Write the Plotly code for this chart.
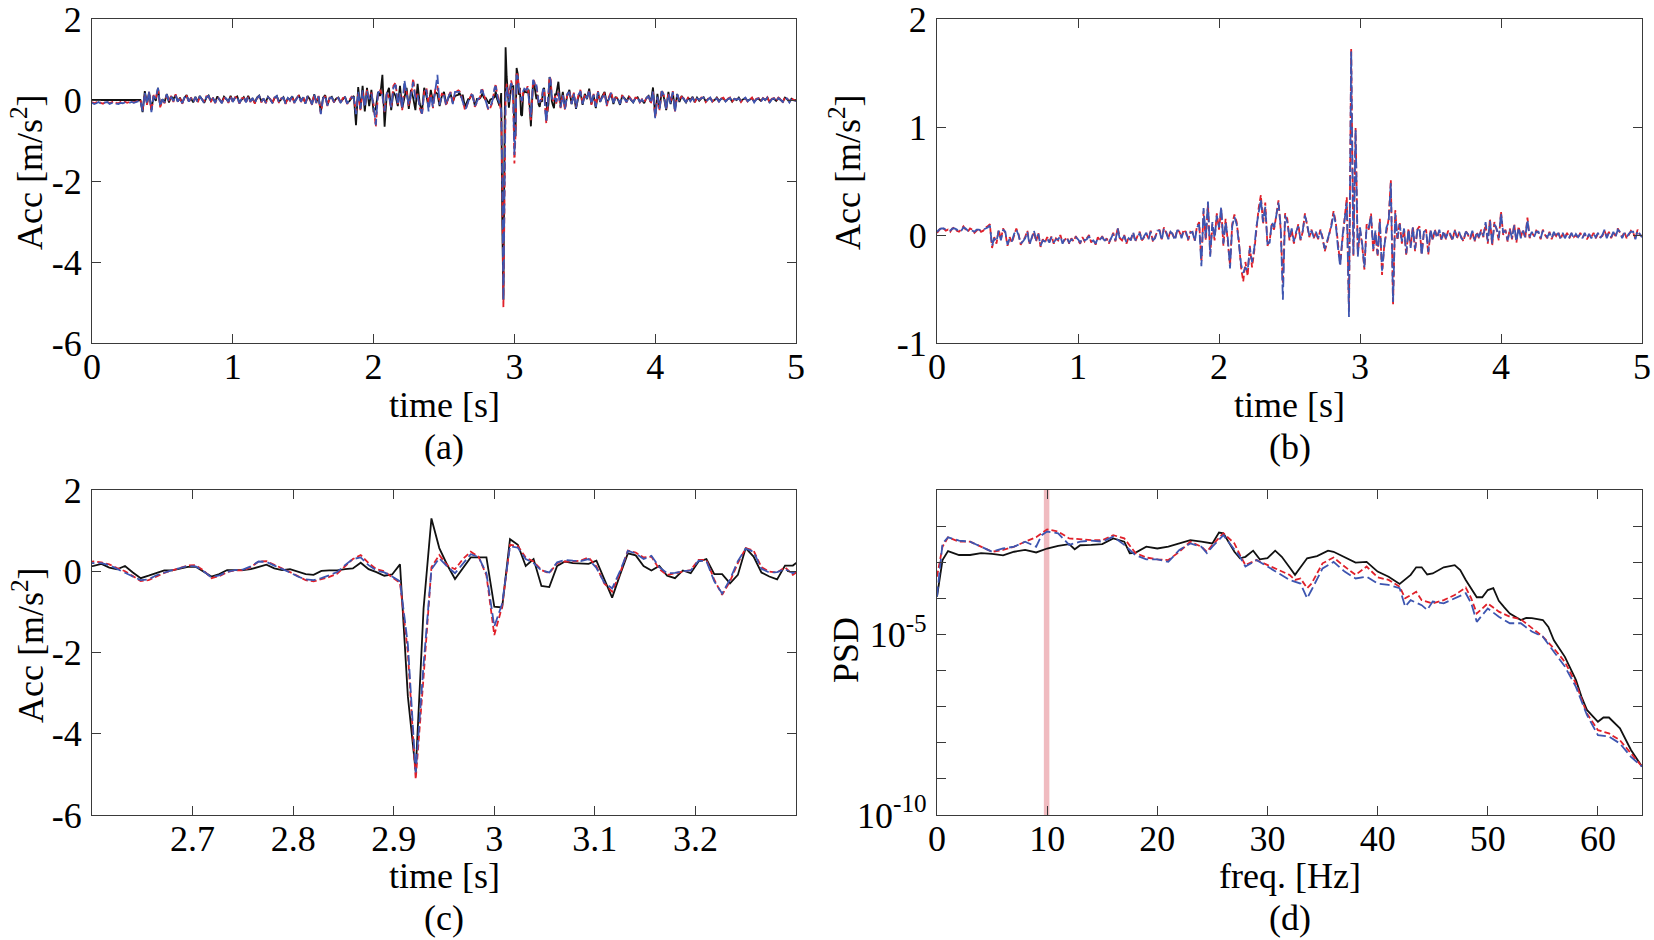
import numpy as np
import plotly.graph_objects as go

# ---------------- data ----------------
FS_A = 64      # samples/s used for panels (a) and (b)
FS_C = 128     # samples/s used for the zoom window (c)

# panel (a) before the zoom window, t = k/64, k = 0..166
meas_pre = [0.0,0.0,0.01,0.0,0.0,0.0,0.01,0.0,0.0,0.0,0.0,0.01,0.0,0.0,0.0,0.0,
            0.0,0.0,0.0,0.0,0.0,0.01,0.0,-0.30,0.22,-0.08,0.18,-0.25,0.10,-0.02,0.30,-0.14,
            0.02,-0.05,0.15,-0.06,0.09,0.02,0.12,-0.04,0.06,-0.08,0.05,0.12,-0.03,0.04,-0.06,0.08,
            -0.04,0.10,0.01,-0.07,0.06,0.11,-0.02,0.04,-0.05,0.09,0.0,-0.06,0.08,0.03,-0.04,0.10,
            -0.03,0.05,0.09,-0.06,0.02,0.07,-0.04,0.10,-0.02,0.03,-0.07,0.06,0.11,-0.03,0.02,-0.05,
            0.08,0.0,-0.06,0.05,0.10,-0.04,0.02,0.07,-0.08,0.04,0.01,0.09,-0.05,0.03,0.12,-0.02,
            0.06,-0.08,0.10,0.02,-0.10,0.14,-0.05,0.08,-0.30,0.05,0.12,-0.12,0.04,0.08,-0.04,0.03,
            0.06,-0.05,0.02,0.08,-0.07,-0.03,0.05,0.10,-0.62,0.32,-0.22,0.35,-0.28,0.30,-0.15,0.25,
            -0.30,-0.20,0.20,0.10,0.62,-0.66,0.15,0.30,-0.25,0.20,0.10,-0.15,0.35,-0.20,0.05,0.30,
            -0.22,0.25,0.05,-0.25,0.40,-0.10,-0.28,0.30,0.10,-0.18,0.25,-0.05,0.20,0.15,-0.15,0.10,
            0.20,-0.10,0.05,0.15,-0.05,0.10,0.12]
red_pre = [-0.05,-0.08,-0.06,-0.03,-0.07,-0.09,-0.05,-0.04,-0.08,-0.06,-0.03,-0.07,-0.08,-0.05,-0.06,-0.04,
           -0.07,-0.05,-0.03,-0.06,-0.04,-0.02,0.0,-0.25,0.15,-0.12,0.20,-0.28,0.12,0.05,0.28,-0.18,
           0.0,-0.08,0.12,-0.02,0.10,-0.05,0.14,-0.02,0.03,-0.10,0.08,0.10,-0.06,0.06,-0.03,0.05,
           -0.07,0.08,0.03,-0.05,0.09,0.08,-0.05,0.06,-0.08,0.07,0.02,-0.09,0.05,0.06,-0.07,0.08,
           -0.06,0.07,0.06,-0.09,0.04,0.05,-0.07,0.08,-0.05,0.06,-0.09,0.04,0.09,-0.06,0.05,-0.08,
           0.06,0.03,-0.09,0.07,0.08,-0.07,0.04,0.05,-0.10,0.06,-0.02,0.08,-0.08,0.05,0.10,-0.05,
           0.08,-0.10,0.07,0.04,-0.12,0.12,-0.08,0.10,-0.33,0.02,0.10,-0.15,0.06,0.05,-0.06,0.05,
           0.04,-0.08,0.05,0.06,-0.10,0.0,0.08,0.05,-0.30,0.15,-0.25,0.20,-0.15,0.25,0.05,0.18,
           -0.10,-0.66,0.15,0.25,0.10,-0.30,0.20,0.05,-0.20,0.35,0.43,-0.10,0.15,-0.25,0.30,0.20,
           -0.15,0.10,0.53,0.05,0.15,-0.20,-0.37,0.20,0.30,-0.10,0.15,-0.20,0.25,0.35,-0.10,0.15,
           0.12,-0.15,0.10,0.20,-0.08,0.18,0.22]
blue_pre = [-0.07,-0.10,-0.08,-0.05,-0.09,-0.11,-0.06,-0.05,-0.10,-0.08,-0.05,-0.09,-0.10,-0.07,-0.08,-0.06,
            -0.08,-0.07,-0.05,-0.07,-0.05,-0.03,-0.01,-0.28,0.18,-0.10,0.22,-0.30,0.10,0.03,0.30,-0.16,
            0.02,-0.06,0.14,-0.04,0.08,-0.03,0.12,-0.04,0.05,-0.08,0.06,0.12,-0.04,0.05,-0.05,0.07,
            -0.05,0.09,0.02,-0.07,0.07,0.10,-0.04,0.05,-0.07,0.08,0.01,-0.08,0.07,0.04,-0.05,0.10,
            -0.05,0.06,0.08,-0.08,0.03,0.07,-0.06,0.09,-0.04,0.05,-0.08,0.05,0.10,-0.05,0.04,-0.07,
            0.07,0.02,-0.08,0.06,0.10,-0.06,0.03,0.06,-0.09,0.05,-0.01,0.09,-0.07,0.04,0.12,-0.04,
            0.07,-0.09,0.09,0.03,-0.11,0.13,-0.07,0.09,-0.35,0.03,0.11,-0.14,0.05,0.06,-0.05,0.04,
            0.05,-0.07,0.04,0.07,-0.09,0.01,0.07,0.06,-0.35,0.20,-0.22,0.24,-0.18,0.22,0.02,0.15,
            -0.12,-0.62,0.18,0.22,0.12,-0.28,0.18,0.08,-0.18,0.30,0.38,-0.12,0.18,-0.22,0.49,0.15,
            -0.12,0.12,0.45,0.02,0.12,-0.18,-0.34,0.18,0.25,-0.28,0.12,-0.18,0.20,0.62,-0.12,0.12,
            0.10,-0.12,0.08,0.18,-0.10,0.20,0.20]

# zoom window (c), t = n/128, n = 333..422
meas_c = [0.13,0.18,0.09,0.05,0.13,-0.03,-0.17,-0.11,-0.05,0.02,
          0.02,0.07,0.11,0.11,-0.01,-0.13,-0.07,0.03,0.03,0.03,
          0.05,0.10,0.16,0.07,0.03,0.05,-0.01,-0.07,-0.09,0.01,
          0.02,0.02,0.05,0.07,0.21,0.05,-0.02,-0.11,-0.08,0.17,
          -3.08,-4.93,-0.91,1.30,0.57,0.16,-0.19,0.07,0.34,0.34,
          0.34,-0.87,-0.89,0.79,0.65,0.13,0.30,-0.36,-0.39,0.13,
          0.24,0.20,0.19,0.18,0.26,-0.20,-0.65,-0.09,0.44,0.39,
          0.13,0.02,0.13,-0.11,-0.17,0.02,-0.05,0.24,0.30,-0.07,
          -0.07,-0.30,-0.09,0.57,0.36,-0.03,-0.13,-0.20,0.14,0.14]
red_c = [0.24,0.22,0.17,0.08,0.00,-0.12,-0.24,-0.22,-0.12,-0.04,
         0.02,0.08,0.14,0.15,0.02,-0.17,-0.12,-0.02,0.02,0.02,
         0.10,0.24,0.25,0.16,0.08,-0.02,-0.12,-0.22,-0.25,-0.20,
         -0.14,-0.06,0.12,0.30,0.40,0.20,0.05,0.00,-0.15,-0.28,
         -2.00,-5.12,-2.60,0.10,0.40,0.15,0.05,0.30,0.48,0.36,
         -0.10,-1.57,-0.87,0.65,0.62,0.34,0.24,0.03,-0.05,0.20,
         0.24,0.24,0.26,0.34,0.12,-0.30,-0.50,-0.05,0.51,0.46,
         0.34,0.36,0.05,-0.09,-0.05,-0.01,0.03,0.28,0.28,-0.21,
         -0.58,-0.25,0.20,0.57,0.51,0.10,-0.01,-0.03,0.10,-0.09]
blue_c = [0.20,0.20,0.15,0.05,-0.03,-0.13,-0.22,-0.20,-0.10,-0.03,
          0.03,0.08,0.13,0.12,0.00,-0.15,-0.10,-0.01,0.03,0.04,
          0.12,0.24,0.23,0.14,0.06,-0.03,-0.13,-0.20,-0.22,-0.17,
          -0.10,-0.02,0.15,0.30,0.34,0.15,0.02,-0.03,-0.13,-0.25,
          -1.80,-4.95,-2.30,0.05,0.32,0.12,-0.05,0.20,0.42,0.35,
          -0.05,-1.36,-0.80,0.62,0.58,0.30,0.20,0.02,-0.03,0.22,
          0.28,0.26,0.25,0.30,0.08,-0.28,-0.42,0.00,0.50,0.44,
          0.30,0.38,0.10,-0.05,-0.04,0.00,0.02,0.26,0.25,-0.25,
          -0.55,-0.20,0.25,0.56,0.48,0.06,-0.03,-0.02,0.05,-0.05]

# panel (a) after the zoom window, t = k/64, k = 212..320
meas_post = [0.45,-0.15,0.20,-0.20,0.10,0.25,-0.10,0.15,-0.22,0.05,0.20,-0.12,
             0.15,0.02,0.28,-0.10,0.12,-0.20,0.18,-0.05,0.10,0.20,-0.08,0.05,0.15,-0.10,0.08,0.02,
             -0.12,0.10,0.05,-0.03,0.08,0.0,-0.06,0.04,0.07,-0.04,0.0,-0.08,0.05,0.10,-0.05,0.31,
             -0.40,0.15,-0.20,0.22,0.05,-0.25,0.20,-0.10,0.18,-0.25,0.15,-0.05,0.10,0.02,-0.06,0.05,
             0.0,0.08,-0.05,0.06,-0.02,0.04,0.07,-0.04,0.02,0.05,-0.03,0.0,0.06,-0.02,0.03,0.04,
             -0.03,0.02,0.05,-0.04,0.03,0.0,0.06,-0.03,0.02,0.04,-0.02,0.01,0.05,-0.04,0.02,0.03,
             -0.02,0.04,0.0,0.06,-0.05,0.02,0.03,-0.02,0.05,0.0,-0.04,0.06,0.02,-0.03,0.03,-0.01,0.0]
red_post = [0.20,-0.20,0.15,-0.25,0.12,0.22,-0.08,0.18,-0.18,0.10,0.25,-0.08,
            0.10,0.05,0.22,-0.12,0.15,-0.15,0.22,-0.02,0.05,0.18,-0.15,0.08,0.20,-0.05,0.05,0.06,
            -0.08,0.12,0.02,-0.06,0.10,0.03,-0.05,0.06,0.04,-0.06,0.02,-0.05,0.03,0.12,-0.10,0.20,
            -0.42,0.05,-0.25,0.25,0.10,-0.22,0.18,-0.05,0.22,-0.28,0.12,0.0,0.08,0.04,-0.05,0.07,
            -0.02,0.06,-0.06,0.05,0.0,0.06,0.05,-0.05,0.03,0.07,-0.04,0.02,0.05,-0.05,0.04,0.06,
            -0.05,0.03,0.06,-0.03,0.02,0.02,0.05,-0.05,0.03,0.05,-0.04,0.02,0.06,-0.05,0.03,0.05,
            -0.04,0.05,0.01,0.07,-0.06,0.03,0.05,-0.03,0.06,0.02,-0.06,0.07,0.04,-0.05,0.04,0.0,-0.02]
blue_post = [0.18,-0.18,0.12,-0.22,0.15,0.20,-0.10,0.16,-0.20,0.12,0.22,-0.10,
             0.12,0.04,0.25,-0.10,0.13,-0.17,0.20,-0.04,0.07,0.16,-0.12,0.06,0.18,-0.07,0.06,0.04,
             -0.10,0.10,0.03,-0.05,0.08,0.02,-0.06,0.05,0.05,-0.05,0.01,-0.06,0.04,0.10,-0.08,0.22,
             -0.45,0.08,-0.22,0.22,0.12,-0.25,0.15,-0.08,0.20,-0.30,0.14,-0.02,0.06,0.03,-0.06,0.06,
             -0.03,0.05,-0.05,0.04,0.01,0.05,0.06,-0.04,0.02,0.06,-0.05,0.01,0.04,-0.04,0.03,0.05,
             -0.04,0.02,0.05,-0.04,0.03,0.01,0.04,-0.04,0.02,0.06,-0.03,0.01,0.05,-0.06,0.02,0.04,
             -0.05,0.04,0.0,0.06,-0.07,0.02,0.04,-0.04,0.05,0.01,-0.05,0.06,0.03,-0.06,0.03,-0.01,-0.03]

# panel (b), t = k/64, k = 0..320
red_b = [0.02,0.05,0.07,0.06,0.04,0.05,0.03,0.06,0.07,0.04,0.03,0.05,0.08,0.05,0.03,0.06,
         0.05,0.02,0.04,0.06,0.03,0.04,0.07,0.08,0.10,-0.12,-0.02,-0.08,0.05,-0.04,0.06,0.02,
         -0.10,-0.02,-0.07,0.00,0.06,0.01,-0.09,-0.05,-0.02,0.04,-0.08,-0.03,0.03,-0.06,0.02,-0.11,
         -0.04,-0.07,-0.02,-0.06,-0.01,-0.08,-0.03,-0.05,0.00,-0.07,-0.04,-0.02,-0.08,-0.03,-0.06,-0.01,
         -0.05,-0.08,-0.02,-0.06,-0.03,0.00,-0.07,-0.04,-0.09,-0.02,-0.05,-0.01,-0.06,-0.03,-0.08,-0.02,
         0.02,-0.06,0.07,-0.03,-0.05,0.00,-0.08,-0.02,-0.04,0.02,-0.06,-0.01,0.03,-0.05,-0.02,0.01,
         -0.03,0.04,-0.06,-0.02,0.03,0.05,-0.04,0.07,0.02,-0.03,0.04,0.00,-0.04,0.05,0.03,-0.02,
         0.05,0.02,-0.05,0.03,0.02,-0.05,0.08,0.12,-0.25,0.22,-0.05,0.28,-0.18,0.10,-0.05,0.20,
         0.05,0.24,-0.10,0.15,-0.05,-0.28,0.10,0.19,0.12,-0.05,-0.30,-0.43,-0.25,-0.38,-0.10,-0.30,
         -0.15,0.05,0.25,0.37,0.10,0.30,-0.10,-0.05,0.10,0.05,0.20,0.32,0.05,-0.45,0.20,0.15,
         -0.05,0.05,-0.08,0.02,0.10,-0.05,0.03,0.20,0.08,-0.02,0.05,-0.03,0.02,-0.04,0.05,-0.02,
         -0.15,-0.08,0.00,0.10,0.22,0.12,-0.10,-0.27,-0.05,0.15,0.35,-0.70,1.73,-0.20,0.99,-0.18,
         0.05,-0.10,-0.32,0.10,0.05,0.20,-0.15,0.02,-0.20,0.15,-0.37,-0.10,0.05,0.15,0.51,-0.65,
         0.23,-0.05,0.12,-0.08,0.05,-0.19,0.06,-0.10,0.08,-0.15,0.05,0.08,-0.17,0.02,0.05,-0.18,
         0.04,-0.05,0.05,-0.02,0.04,-0.05,0.03,-0.04,0.04,0.00,-0.05,0.05,-0.03,0.02,-0.02,-0.06,
         0.04,0.00,-0.04,0.03,-0.06,0.02,-0.03,0.05,-0.02,0.10,-0.08,0.15,-0.10,0.12,0.05,-0.05,
         0.22,0.00,0.05,-0.06,0.06,-0.04,0.10,-0.07,0.08,-0.02,0.05,-0.03,0.16,-0.03,0.02,-0.01,
         0.04,0.02,-0.04,0.05,0.00,-0.03,0.03,-0.04,0.02,-0.01,0.03,-0.04,0.01,-0.02,0.02,-0.03,
         0.01,-0.02,0.00,-0.03,0.02,-0.02,0.01,-0.04,0.00,-0.02,0.02,-0.03,0.01,-0.02,-0.01,0.04,
         -0.02,0.03,-0.03,0.02,-0.01,0.06,0.02,-0.02,0.03,-0.03,0.00,0.04,0.02,-0.03,0.05,0.00,-0.01]
blue_b = [0.03,0.05,0.06,0.06,0.05,0.04,0.04,0.06,0.06,0.05,0.03,0.04,0.07,0.06,0.04,0.05,
          0.04,0.03,0.05,0.05,0.04,0.05,0.06,0.07,0.09,-0.10,-0.03,-0.06,0.04,-0.05,0.05,0.03,
          -0.09,-0.03,-0.06,0.01,0.05,0.00,-0.08,-0.06,-0.03,0.03,-0.09,-0.02,0.04,-0.05,0.01,-0.10,
          -0.05,-0.06,-0.03,-0.07,-0.02,-0.07,-0.04,-0.04,-0.01,-0.08,-0.03,-0.03,-0.07,-0.04,-0.05,-0.02,
          -0.04,-0.07,-0.03,-0.05,-0.04,-0.01,-0.06,-0.05,-0.08,-0.03,-0.04,-0.02,-0.05,-0.04,-0.07,-0.03,
          0.01,-0.05,0.06,-0.04,-0.04,-0.01,-0.07,-0.03,-0.05,0.03,-0.05,-0.02,0.02,-0.06,-0.01,0.02,
          -0.04,0.03,-0.05,-0.03,0.04,0.04,-0.05,0.06,0.03,-0.04,0.03,0.01,-0.05,0.04,0.04,-0.03,
          0.04,0.03,-0.04,0.02,0.03,-0.06,0.07,0.10,-0.29,0.25,-0.03,0.31,-0.20,0.12,-0.03,0.18,
          0.07,0.26,-0.08,0.12,-0.03,-0.31,0.08,0.17,0.10,-0.07,-0.27,-0.35,-0.30,-0.33,-0.12,-0.25,
          -0.12,0.08,0.22,0.33,0.12,0.26,-0.08,-0.07,0.12,0.07,0.18,0.30,0.08,-0.60,0.18,0.12,
          -0.03,0.06,-0.06,0.03,0.08,-0.04,0.04,0.18,0.10,-0.01,0.04,-0.02,0.03,-0.03,0.04,-0.03,
          -0.13,-0.06,0.02,0.08,0.20,0.10,-0.12,-0.29,-0.02,0.12,0.30,-0.76,1.70,-0.18,0.97,-0.20,
          0.07,-0.08,-0.30,0.08,0.07,0.18,-0.13,0.04,-0.18,0.13,-0.33,-0.12,0.07,0.12,0.48,-0.62,
          0.20,-0.03,0.10,-0.06,0.06,-0.17,0.05,-0.12,0.07,-0.13,0.04,0.07,-0.19,0.03,0.04,-0.16,
          0.05,-0.04,0.04,-0.03,0.05,-0.04,0.04,-0.03,0.03,0.01,-0.04,0.04,-0.02,0.03,-0.03,-0.05,
          0.03,0.01,-0.03,0.04,-0.05,0.03,-0.02,0.04,-0.01,0.12,-0.06,0.13,-0.08,0.10,0.06,-0.03,
          0.20,0.02,0.04,-0.05,0.05,-0.03,0.09,-0.06,0.07,-0.03,0.04,-0.02,0.14,-0.02,0.03,-0.02,
          0.03,0.03,-0.03,0.04,0.01,-0.02,0.02,-0.03,0.03,-0.02,0.02,-0.03,0.02,-0.03,0.01,-0.02,
          0.02,-0.03,0.01,-0.02,0.01,-0.03,0.02,-0.03,0.01,-0.03,0.01,-0.02,0.02,-0.03,0.00,0.05,
          -0.03,0.02,-0.02,0.03,-0.02,0.05,0.03,-0.03,0.02,-0.02,0.01,0.03,0.03,-0.04,0.04,0.01,-0.02]

# panel (d): PSD, stored as log10 values
f_meas = [0,0.5,1,2,3,4,5,6,7,8,9,10,11,12,12.5,13,14,15,16,17,17.5,18,19,20,21,22,23,24,25,25.6,
          26,27,27.5,28,28.7,29.3,30,30.7,31.3,32,32.5,33,33.6,34.5,35.5,36,37,38,39,40,41,41.5,
          42,43,43.5,44,44.5,45,46,47,47.5,48,49,49.5,50,50.5,51,51.5,52,53,53.5,54,55,55.5,56,57,
          58,58.5,59,60,60.5,61,62,63,64]
lpsd_meas = [-3.95,-2.94,-2.69,-2.80,-2.80,-2.75,-2.77,-2.81,-2.71,-2.66,-2.73,-2.62,-2.55,-2.50,-2.64,
             -2.53,-2.52,-2.50,-2.34,-2.43,-2.75,-2.74,-2.57,-2.62,-2.57,-2.48,-2.39,-2.43,-2.48,-2.18,
             -2.20,-2.71,-2.89,-2.85,-2.68,-2.92,-2.89,-2.68,-2.85,-3.14,-3.35,-3.14,-2.89,-2.83,-2.68,
             -2.71,-2.87,-3.01,-2.99,-3.26,-3.40,-3.49,-3.60,-3.35,-3.14,-3.14,-3.34,-3.31,-3.14,-3.08,
             -3.22,-3.49,-3.97,-3.97,-3.77,-3.72,-4.07,-4.25,-4.42,-4.60,-4.54,-4.55,-4.60,-4.79,-5.16,
             -5.62,-6.26,-6.72,-7.09,-7.42,-7.30,-7.30,-7.60,-8.20,-8.66]
f_red = [0,0.5,1,2,3,4,5,6,7,8,9,10,11,12,13,14,15,16,17,18,19,20,21,22,23,24,24.5,25,26,27,27.5,
         28,29,30,31,32,32.5,33,33.6,34,35,36,37,38,39,40,41,42,42.5,43,43.5,44,45,46,47,48,48.5,
         49,50,51,52,53,54,55,56,57,58,59,60,61,62,63,64]
lpsd_red = [-3.40,-2.57,-2.31,-2.43,-2.43,-2.57,-2.71,-2.66,-2.57,-2.43,-2.31,-2.09,-2.15,-2.34,-2.37,
            -2.39,-2.39,-2.25,-2.34,-2.74,-2.87,-2.92,-2.94,-2.71,-2.43,-2.57,-2.71,-2.52,-2.20,-2.48,
            -2.80,-3.08,-2.94,-3.08,-3.22,-3.35,-3.49,-3.45,-3.72,-3.59,-3.03,-2.87,-3.12,-3.35,-3.12,
            -3.42,-3.49,-3.68,-4.00,-3.91,-3.82,-4.05,-4.14,-4.05,-3.91,-3.70,-4.00,-4.42,-4.14,-4.37,
            -4.51,-4.58,-4.83,-5.06,-5.39,-5.76,-6.36,-7.19,-7.65,-7.74,-7.93,-8.29,-8.66]
f_blue = [0,0.5,1,2,3,4,5,6,7,8,9,9.5,10,11,12,13,14,15,16,17,18,19,20,21,22,23,24,24.5,25,26,27,
          27.5,28,29,30,31,32,33,33.6,34,35,36,37,38,39,40,41,42,42.5,43,44,44.5,45,46,47,48,48.5,
          49,50,51,52,53,54,55,56,57,58,59,60,61,62,63,64]
lpsd_blue = [-3.95,-2.48,-2.31,-2.40,-2.43,-2.57,-2.71,-2.62,-2.57,-2.43,-2.57,-2.25,-2.15,-2.20,-2.52,
             -2.43,-2.40,-2.43,-2.29,-2.52,-2.80,-2.92,-2.92,-2.99,-2.66,-2.48,-2.57,-2.75,-2.57,-2.25,
             -2.66,-2.85,-3.12,-2.94,-3.12,-3.31,-3.49,-3.59,-4.00,-3.77,-3.17,-2.99,-3.26,-3.45,-3.40,
             -3.59,-3.63,-3.72,-4.23,-4.05,-4.19,-4.32,-4.09,-4.14,-4.00,-3.86,-4.14,-4.65,-4.28,-4.51,
             -4.69,-4.69,-4.92,-5.06,-5.48,-5.89,-6.45,-7.23,-7.79,-7.83,-8.02,-8.39,-8.66]

band_freq = [9.7, 10.2]   # highlighted frequency band in (d)

# tick labels
ticks_t = [0, 1, 2, 3, 4, 5]
ticks_acc = [-6, -4, -2, 0, 2]
ticks_b = [-1, 0, 1, 2]
ticks_c = [2.7, 2.8, 2.9, 3.0, 3.1, 3.2]
ticks_c_text = ["2.7", "2.8", "2.9", "3", "3.1", "3.2"]
ticks_f = [0, 10, 20, 30, 40, 50, 60]
decades = list(range(-10, 0))
decade_text = {-10: "10<sup>-10</sup>", -5: "10<sup>-5</sup>"}

# ---------------- assemble time axes ----------------
t_pre = np.arange(len(meas_pre)) / FS_A
t_c = (333 + np.arange(len(meas_c))) / FS_C
t_post = (212 + np.arange(len(meas_post))) / FS_A
t_a = np.concatenate([t_pre, t_c, t_post])
meas_a = np.concatenate([meas_pre, meas_c, meas_post])
red_a = np.concatenate([red_pre, red_c, red_post])
blue_a = np.concatenate([blue_pre, blue_c, blue_post])
t_b = np.arange(len(red_b)) / FS_A

# ---------------- styling ----------------
FONT = "Liberation Serif"
FS = 36
BLACK = "#111111"
RED = "#e0202a"
BLUE = "#3d55b0"
AXC = "#3a3a3a"
LW = 1.8

fig = go.Figure()

def line(x, y, xa, ya, color, dash=None):
    fig.add_trace(go.Scatter(x=x, y=y, mode="lines", xaxis=xa, yaxis=ya,
                             line=dict(color=color, width=LW, dash=dash), showlegend=False))

line(t_a, meas_a, "x", "y", BLACK)
line(t_a, red_a, "x", "y", RED, "6px,3px")
line(t_a, blue_a, "x", "y", BLUE, "10px,4px")
line(t_b, red_b, "x2", "y2", RED, "6px,3px")
line(t_b, blue_b, "x2", "y2", BLUE, "10px,4px")
line(t_a, meas_a, "x3", "y3", BLACK)
line(t_a, red_a, "x3", "y3", RED, "6px,3px")
line(t_a, blue_a, "x3", "y3", BLUE, "10px,4px")
line(f_meas, 10 ** np.array(lpsd_meas), "x4", "y4", BLACK)
line(f_red, 10 ** np.array(lpsd_red), "x4", "y4", RED, "6px,3px")
line(f_blue, 10 ** np.array(lpsd_blue), "x4", "y4", BLUE, "10px,4px")

W, H = 1654, 940
def px(x):
    return x / W
def py(y):
    return 1 - y / H

XL = [px(92), px(796)]
XR = [px(937), px(1642)]
YT = [py(343), py(19)]
YB = [py(815), py(490)]

common = dict(showline=True, mirror="ticks", linecolor=AXC, linewidth=1.3,
              ticks="inside", ticklen=9, tickwidth=1.2, tickcolor=AXC,
              showgrid=False, zeroline=False, automargin=False, ticklabeloverflow="allow",
              tickfont=dict(family=FONT, size=FS, color="black"))
xcommon = dict(common, ticklabelstandoff=-8)
ycommon = dict(common, ticklabelstandoff=2)

def fmt(v):
    return str(v).replace("\u2212", "-")

fig.update_layout(
    width=W, height=H, margin=dict(l=0, r=0, t=0, b=0, autoexpand=False),
    paper_bgcolor="white", plot_bgcolor="white",
    xaxis=dict(domain=XL, anchor="y", range=[0, 5], tickvals=ticks_t,
               ticktext=[fmt(v) for v in ticks_t], **xcommon),
    yaxis=dict(domain=YT, anchor="x", range=[-6, 2], tickvals=ticks_acc,
               ticktext=[fmt(v) for v in ticks_acc], **ycommon),
    xaxis2=dict(domain=XR, anchor="y2", range=[0, 5], tickvals=ticks_t,
                ticktext=[fmt(v) for v in ticks_t], **xcommon),
    yaxis2=dict(domain=YT, anchor="x2", range=[-1, 2], tickvals=ticks_b,
                ticktext=[fmt(v) for v in ticks_b], **ycommon),
    xaxis3=dict(domain=XL, anchor="y3", range=[2.6, 3.3], tickvals=ticks_c,
                ticktext=ticks_c_text, **xcommon),
    yaxis3=dict(domain=YB, anchor="x3", range=[-6, 2], tickvals=ticks_acc,
                ticktext=[fmt(v) for v in ticks_acc], **ycommon),
    xaxis4=dict(domain=XR, anchor="y4", range=[0, 64], tickvals=ticks_f,
                ticktext=[fmt(v) for v in ticks_f], **xcommon),
    yaxis4=dict(domain=YB, anchor="x4", type="log", range=[-10, -1],
                tickvals=[10.0 ** e for e in decades],
                ticktext=[decade_text.get(e, "") for e in decades], **ycommon),
)

fig.add_shape(type="rect", xref="x4", yref="y4 domain", x0=band_freq[0], x1=band_freq[1],
              y0=0, y1=1, fillcolor="rgba(232,150,158,0.65)", line=dict(width=0), layer="below")

def ann(text, x, y, angle=0):
    fig.add_annotation(text=text, x=x, y=y, xref="paper", yref="paper", showarrow=False,
                       textangle=angle, xanchor="center", yanchor="middle",
                       font=dict(family=FONT, size=FS, color="black"))

xa_c = (XL[0] + XL[1]) / 2
xb_c = (XR[0] + XR[1]) / 2
ann("time [s]", xa_c, py(405))
ann("(a)", xa_c, py(447))
ann("time [s]", xb_c, py(405))
ann("(b)", xb_c, py(447))
ann("time [s]", xa_c, py(876))
ann("(c)", xa_c, py(918))
ann("freq. [Hz]", xb_c, py(876))
ann("(d)", xb_c, py(918))
ann("Acc [m/s<sup>2</sup>]", px(28), py(172), -90)
ann("Acc [m/s<sup>2</sup>]", px(846), py(172), -90)
ann("Acc [m/s<sup>2</sup>]", px(28), py(645), -90)
ann("PSD", px(846), py(650), -90)

fig.write_html("out.html")
